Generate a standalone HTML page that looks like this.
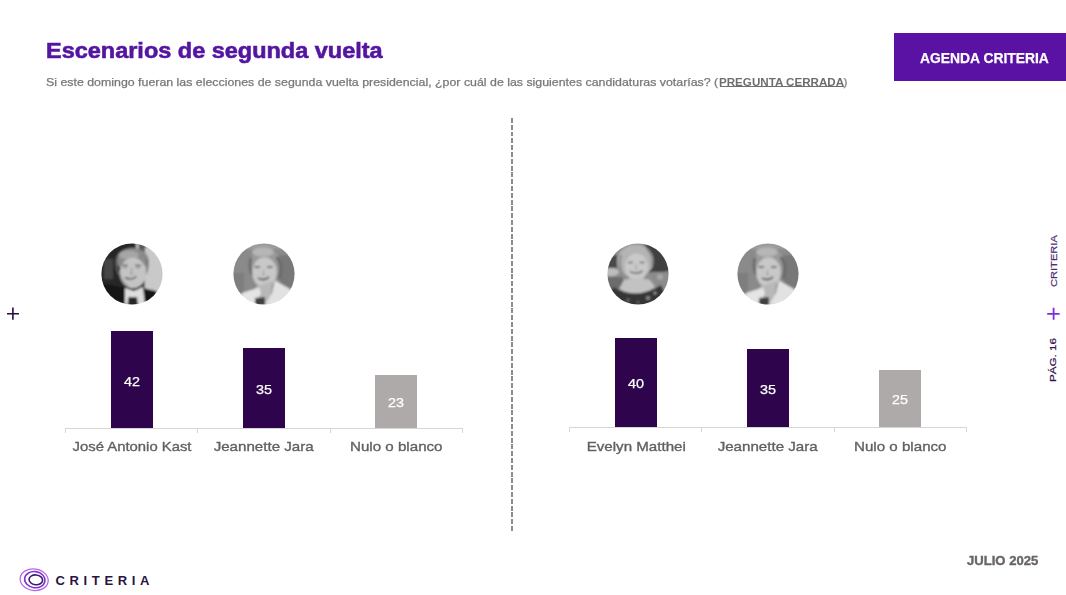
<!DOCTYPE html>
<html><head><meta charset="utf-8">
<style>
html,body{margin:0;padding:0;background:#fff;}
body{width:1066px;height:595px;position:relative;overflow:hidden;font-family:"Liberation Sans",sans-serif;}
.abs{position:absolute;white-space:nowrap;}
.title{left:46.4px;top:39px;font-size:21.5px;font-weight:bold;color:#5415a0;transform-origin:0 0;transform:scaleX(1.092);line-height:25px;-webkit-text-stroke:0.6px #5415a0;}
.sub{left:46.4px;top:75.8px;font-size:11px;color:#787878;-webkit-text-stroke:0.25px #787878;transform-origin:0 0;transform:scaleX(1.124);line-height:13px;}
.subb{left:719px;top:75.8px;font-size:11px;color:#6e6e6e;font-weight:bold;transform-origin:0 0;transform:scaleX(1.055);line-height:13px;}
.btn{left:894px;top:33px;width:172px;height:48px;background:#5912a3;}
.btntxt{left:919.5px;top:49.6px;font-size:14px;font-weight:bold;color:#fff;transform-origin:0 0;transform:scaleX(0.99);line-height:16px;-webkit-text-stroke:0.25px #fff;}
.bar{position:absolute;width:42px;}
.dark{background:#2e054c;}
.gray{background:#adaaa9;}
.num{position:absolute;width:42px;text-align:center;color:#fff;font-size:12.5px;line-height:14px;-webkit-text-stroke:0.25px #fff;}
.num span{display:inline-block;transform:scaleX(1.15);}
.axis{position:absolute;height:1px;background:#d6d6d6;}
.tick{position:absolute;width:1px;height:5px;background:#d6d6d6;}
.lbl{position:absolute;width:200px;text-align:center;font-size:13.5px;color:#616161;line-height:16px;-webkit-text-stroke:0.35px #616161;}
.lbl span{display:inline-block;transform:scaleX(1.12);}
.divider{left:511px;top:118px;width:2px;height:414px;background:repeating-linear-gradient(to bottom,#8c8c8c 0,#8c8c8c 4.9px,transparent 4.9px,transparent 6.8px);}
.photo{position:absolute;width:62px;height:62px;}
.vtxt{position:absolute;transform-origin:0 0;transform:rotate(-90deg);white-space:nowrap;line-height:10px;}
</style></head><body>

<div class="abs title">Escenarios de segunda vuelta</div>
<div class="abs sub">Si este domingo fueran las elecciones de segunda vuelta presidencial, ¿por cuál de las siguientes candidaturas votarías? (</div>
<div class="abs subb">PREGUNTA CERRADA</div>
<div class="abs" style="left:719.5px;top:86px;width:124px;height:1px;background:#6e6e6e"></div>
<div class="abs sub" style="left:843.5px;transform:none">)</div>

<div class="abs btn"></div>
<div class="abs btntxt">AGENDA CRITERIA</div>

<div class="abs divider"></div>

<!-- left chart -->
<div class="axis" style="left:65px;top:428px;width:398px"></div>
<div class="tick" style="left:65px;top:428px"></div>
<div class="tick" style="left:197px;top:428px"></div>
<div class="tick" style="left:330px;top:428px"></div>
<div class="tick" style="left:462px;top:428px"></div>
<div class="bar dark" style="left:111px;top:331px;height:97px"></div>
<div class="bar dark" style="left:243px;top:348px;height:80px"></div>
<div class="bar gray" style="left:375px;top:375px;height:53px"></div>
<div class="num" style="left:111px;top:374.8px"><span>42</span></div>
<div class="num" style="left:243px;top:382.8px"><span>35</span></div>
<div class="num" style="left:375px;top:395.8px"><span>23</span></div>
<div class="lbl" style="left:32px;top:439px"><span style="transform:scaleX(1.1)">José Antonio Kast</span></div>
<div class="lbl" style="left:164px;top:439px"><span>Jeannette Jara</span></div>
<div class="lbl" style="left:296px;top:439px"><span>Nulo o blanco</span></div>

<!-- right chart -->
<div class="axis" style="left:569px;top:427px;width:398px"></div>
<div class="tick" style="left:569px;top:427px"></div>
<div class="tick" style="left:701px;top:427px"></div>
<div class="tick" style="left:834px;top:427px"></div>
<div class="tick" style="left:966px;top:427px"></div>
<div class="bar dark" style="left:615px;top:338px;height:89px"></div>
<div class="bar dark" style="left:747px;top:349px;height:78px"></div>
<div class="bar gray" style="left:879px;top:370px;height:57px"></div>
<div class="num" style="left:615px;top:376.8px"><span>40</span></div>
<div class="num" style="left:747px;top:382.8px"><span>35</span></div>
<div class="num" style="left:879px;top:392.8px"><span>25</span></div>
<div class="lbl" style="left:536px;top:438.5px"><span>Evelyn Matthei</span></div>
<div class="lbl" style="left:668px;top:438.5px"><span>Jeannette Jara</span></div>
<div class="lbl" style="left:800px;top:438.5px"><span>Nulo o blanco</span></div>

<!-- photos -->
<svg class="abs" style="left:0;top:0" width="0" height="0"><defs>
<clipPath id="cc"><circle cx="31" cy="31" r="30.6"/></clipPath>
<filter id="bl" x="-10%" y="-10%" width="120%" height="120%"><feGaussianBlur stdDeviation="0.85"/></filter>
</defs></svg>
<svg class="abs" style="left:101px;top:243px" width="62" height="62" viewBox="0 0 62 62"><g clip-path="url(#cc)"><g filter="url(#bl)">
<rect x="-4" y="-4" width="70" height="70" fill="#262626"/>
<rect x="3" y="16" width="9" height="20" fill="#454545"/>
<rect x="43.5" y="4" width="23" height="50" fill="#c9c9c9"/>
<rect x="35" y="-4" width="3" height="13" fill="#b8b8b8"/>
<rect x="39" y="-4" width="5" height="13" fill="#5a5a5a"/>
<ellipse cx="31.5" cy="17" rx="16" ry="12" fill="#8a8a8a"/>
<ellipse cx="28" cy="12" rx="10" ry="4.5" fill="#a6a6a6"/>
<path d="M16 14q-2 8 2 18" stroke="#5e5e5e" stroke-width="2" fill="none"/>
<path d="M46 16q2 8 -2 16" stroke="#6e6e6e" stroke-width="2" fill="none"/>
<ellipse cx="32" cy="30" rx="13.2" ry="15.2" fill="#c4c4c4"/>
<path d="M21 22.5h6M34 22.5h6" stroke="#5a5a5a" stroke-width="1.3"/>
<path d="M22.5 25h3M35.5 25h3" stroke="#7a7a7a" stroke-width="1.2"/>
<path d="M31 25l-1.5 6h3" stroke="#9a9a9a" stroke-width="1.2" fill="none"/>
<path d="M24 34.5q6.5 3.5 11.5 -1" stroke="#555" stroke-width="1.6" fill="none"/>
<path d="M19 30q2 10 8 13" stroke="#a2a2a2" stroke-width="1.5" fill="none"/>
<path d="M0 40L23 45L26 62L0 62Z" fill="#141414"/>
<path d="M42 45L55 48L62 62L40 62Z" fill="#141414"/>
<path d="M24 45L33 48L42 44L44 62L24 62Z" fill="#dedede"/>
<path d="M27.5 54L36 54L37 62L26.5 62Z" fill="#262626"/>
</g></g></svg>
<svg class="abs" style="left:233px;top:243px" width="62" height="62" viewBox="0 0 62 62"><g clip-path="url(#cc)"><g filter="url(#bl)">
<rect x="-4" y="-4" width="70" height="70" fill="#8a8a8a"/>
<rect x="-4" y="-4" width="70" height="10" fill="#9c9c9c"/>
<rect x="47" y="12" width="20" height="34" fill="#787878"/>
<rect x="-4" y="30" width="15" height="22" fill="#7e7e7e"/>
<ellipse cx="32" cy="21" rx="15.5" ry="15.5" fill="#9a9a9a"/>
<ellipse cx="30" cy="9" rx="11" ry="4.5" fill="#b6b6b6"/>
<path d="M18 15q-2.5 8 1 17" stroke="#686868" stroke-width="2.6" fill="none"/>
<path d="M44 14q6 8 2.5 22" stroke="#6a6a6a" stroke-width="3.2" fill="none"/>
<ellipse cx="31.5" cy="29.5" rx="12.3" ry="15.2" fill="#c8c8c8"/>
<path d="M21.5 24h5.5M34 24h5.5" stroke="#555" stroke-width="1.4"/>
<path d="M31 27l-1.2 5h2.4" stroke="#a0a0a0" stroke-width="1.1" fill="none"/>
<path d="M25 35q6 3.5 11 -1" stroke="#5a5a5a" stroke-width="1.8" fill="none"/>
<path d="M23 44L40 38L36 62L23 62Z" fill="#b8b8b8"/>
<path d="M9 50L26 44.5L28 50L22 62L5 62Z" fill="#e4e4e4"/>
<path d="M42 37.5L57 46L61 62L32 62L39 50Z" fill="#e2e2e2"/>
<path d="M22 55L32 54L32 62L22 62Z" fill="#404040"/>
</g></g></svg>
<svg class="abs" style="left:606.7px;top:243px" width="62" height="62" viewBox="0 0 62 62"><g clip-path="url(#cc)"><g filter="url(#bl)">
<rect x="-4" y="-4" width="70" height="70" fill="#8e8e8e"/>
<rect x="-4" y="12" width="14" height="13" fill="#4a4a4a"/>
<ellipse cx="4" cy="29" rx="8" ry="4" fill="#bdbdbd"/>
<rect x="-4" y="34" width="20" height="18" fill="#6c6c6c"/>
<path d="M38 0L66 0L66 28L42 30Z" fill="#404040"/>
<rect x="44" y="29" width="22" height="18" fill="#8c8c8c"/>
<ellipse cx="53" cy="34" rx="3" ry="3" fill="#a8a8a8"/>
<ellipse cx="28.5" cy="18" rx="18" ry="16.5" fill="#b4b4b4"/>
<path d="M14 12q-3 10 2 20" stroke="#8c8c8c" stroke-width="2.2" fill="none"/>
<path d="M40 6q6 6 5 18" stroke="#909090" stroke-width="2" fill="none"/>
<ellipse cx="29.5" cy="24" rx="11.5" ry="13.4" fill="#c9c9c9"/>
<path d="M21 19.5h5M32.5 19.5h5" stroke="#6a6a6a" stroke-width="1.3"/>
<path d="M29.5 21l-1 5h2" stroke="#a4a4a4" stroke-width="1.1" fill="none"/>
<path d="M23 28.5q6.5 3.5 12.5 -0.5" stroke="#6a6a6a" stroke-width="1.6" fill="none"/>
<path d="M17 37Q30 33 43 37L48 44Q30 56 12 46Z" fill="#c2c2c2"/>
<path d="M6 44Q30 58 54 42L64 64L-2 64Z" fill="#353535"/>
<circle cx="41" cy="55" r="2" fill="#8c8c8c"/>
<circle cx="48" cy="50" r="1.5" fill="#9a9a9a"/>
<circle cx="21" cy="57" r="1.6" fill="#707070"/>
<circle cx="31" cy="59" r="1.2" fill="#6a6a6a"/>
</g></g></svg>
<svg class="abs" style="left:737px;top:243px" width="62" height="62" viewBox="0 0 62 62"><g clip-path="url(#cc)"><g filter="url(#bl)">
<rect x="-4" y="-4" width="70" height="70" fill="#8a8a8a"/>
<rect x="-4" y="-4" width="70" height="10" fill="#9c9c9c"/>
<rect x="47" y="12" width="20" height="34" fill="#787878"/>
<rect x="-4" y="30" width="15" height="22" fill="#7e7e7e"/>
<ellipse cx="32" cy="21" rx="15.5" ry="15.5" fill="#9a9a9a"/>
<ellipse cx="30" cy="9" rx="11" ry="4.5" fill="#b6b6b6"/>
<path d="M18 15q-2.5 8 1 17" stroke="#686868" stroke-width="2.6" fill="none"/>
<path d="M44 14q6 8 2.5 22" stroke="#6a6a6a" stroke-width="3.2" fill="none"/>
<ellipse cx="31.5" cy="29.5" rx="12.3" ry="15.2" fill="#c8c8c8"/>
<path d="M21.5 24h5.5M34 24h5.5" stroke="#555" stroke-width="1.4"/>
<path d="M31 27l-1.2 5h2.4" stroke="#a0a0a0" stroke-width="1.1" fill="none"/>
<path d="M25 35q6 3.5 11 -1" stroke="#5a5a5a" stroke-width="1.8" fill="none"/>
<path d="M23 44L40 38L36 62L23 62Z" fill="#b8b8b8"/>
<path d="M9 50L26 44.5L28 50L22 62L5 62Z" fill="#e4e4e4"/>
<path d="M42 37.5L57 46L61 62L32 62L39 50Z" fill="#e2e2e2"/>
<path d="M22 55L32 54L32 62L22 62Z" fill="#404040"/>
</g></g></svg>

<!-- plus left -->
<svg class="abs" style="left:0;top:300px" width="30" height="30"><path d="M7 13.7H19M12.9 7.6V19.7" stroke="#2a0a4a" stroke-width="1.6" fill="none"/></svg>

<!-- right vertical -->
<div class="vtxt" style="left:1049.3px;top:287px;font-size:9.8px;color:#4b2c74;-webkit-text-stroke:0.2px #4b2c74;transform:rotate(-90deg) scaleX(1.133)">CRITERIA</div>
<svg class="abs" style="left:1040px;top:300px" width="26" height="26"><path d="M7.2 13.8H19.6M13.6 7.8V19.8" stroke="#7f2be0" stroke-width="1.8" fill="none"/></svg>
<div class="vtxt" style="left:1047.8px;top:381.8px;font-size:9.6px;color:#2e1050;-webkit-text-stroke:0.2px #2e1050;transform:rotate(-90deg) scaleX(1.21)">PÁG. 16</div>

<!-- footer -->
<div class="abs" style="left:967px;top:553.8px;font-size:12px;font-weight:bold;color:#6b6565;line-height:14px;transform-origin:0 0;transform:scaleX(1.09);-webkit-text-stroke:0.35px #6b6565">JULIO 2025</div>
<svg class="abs" style="left:15px;top:564px" width="40" height="31" viewBox="0 0 40 31">
<ellipse cx="19.15" cy="15.75" rx="14.1" ry="10.7" fill="none" stroke="#b866e8" stroke-width="1.3" transform="rotate(8 19.15 15.75)"/>
<ellipse cx="19.8" cy="15.65" rx="10.2" ry="8.1" fill="none" stroke="#8232d4" stroke-width="1.6" transform="rotate(8 19.8 15.65)"/>
<ellipse cx="20.85" cy="15.8" rx="6.8" ry="4.9" fill="none" stroke="#3a1870" stroke-width="1.6" transform="rotate(6 20.85 15.8)"/>
</svg>
<div class="abs" style="left:55.5px;top:573px;font-size:13px;font-weight:bold;color:#2a1540;letter-spacing:4.65px;line-height:15px">CRITERIA</div>

</body></html>
